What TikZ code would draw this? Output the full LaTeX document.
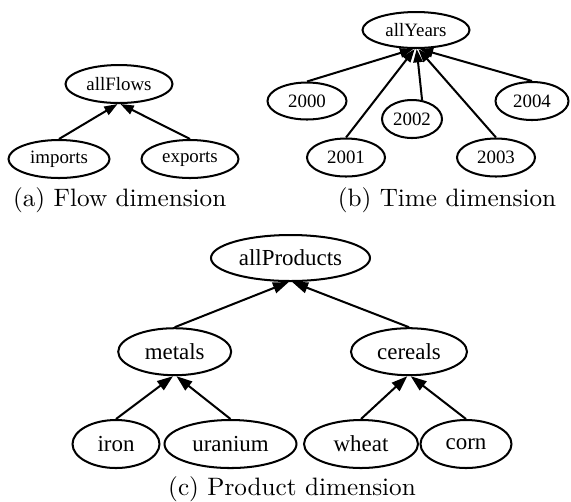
\documentclass[tikz,border=0pt]{standalone}
\usepackage{fontspec}
\newfontfamily\nodefont{Liberation Serif}
\usetikzlibrary{shapes.geometric,arrows.meta}
\begin{document}
\begin{tikzpicture}[x=0.397pt,y=-0.397pt,
  ell/.style 2 args={ellipse, draw, line width=0.8pt, inner sep=0pt,
    minimum width=#1*0.397pt, minimum height=#2*0.397pt},
  sa/.style={font=\nodefont\fontsize{7.5}{9}\selectfont},
  sc/.style={font=\nodefont\fontsize{9.1}{11}\selectfont},
  edgea/.style={line width=0.8pt, -{Triangle[length=5.3pt,width=3.7pt]}},
  edgec/.style={line width=0.8pt, -{Triangle[length=6.3pt,width=4.4pt]}},
  captext/.style={anchor=base, inner sep=0pt}]
\useasboundingbox (0,0) rectangle (571,501);
% (a) Flow dimension
\node[ell={107}{38}, sa] (allFlows) at (119,84) {allFlows};
\node[ell={101}{38}, sa] (imports) at (59,159) {imports};
\node[ell={97}{38}, sa] (exports) at (190,159) {exports};
\draw[edgea] (imports.north) -- (allFlows.266);
\draw[edgea] (exports.north) -- (allFlows.274);
\node[captext] (capa) at (119.7,206.5) {(a) Flow dimension};
% (b) Time dimension
\node[ell={107}{36}, sa] (allYears) at (416,30) {allYears};
\node[ell={79}{37}, sa] (y2000) at (307,101) {2000};
\node[ell={78}{38}, sa] (y2001) at (346,157.5) {2001};
\node[ell={60}{38}, sa] (y2002) at (412,119) {2002};
\node[ell={78}{38}, sa] (y2003) at (496,157.5) {2003};
\node[ell={73}{38}, sa] (y2004) at (532,101) {2004};
\draw[edgea] (y2000.north) -- (allYears.262);
\draw[edgea] (y2001.north) -- (allYears.266);
\draw[edgea] (y2002.62) -- (allYears.272);
\draw[edgea] (y2003.north) -- (allYears.277);
\draw[edgea] (y2004.north) -- (allYears.281);
\node[captext] (capb) at (447,206.5) {(b) Time dimension};
% (c) Product dimension
\node[ell={159}{46}, sc] (allProducts) at (290.5,258) {allProducts};
\node[ell={113}{47}, sc] (metals) at (174.7,351.7) {metals};
\node[ell={116}{47}, sc] (cereals) at (409,351.7) {cereals};
\node[ell={87}{48}, sc] (iron) at (116,444) {iron};
\node[ell={132}{48}, sc] (uranium) at (230.5,444) {uranium};
\node[ell={114}{48}, sc] (wheat) at (361,444) {wheat};
\node[ell={91}{48}, sc] (corn) at (466,444) {corn};
\draw[edgec] (metals.north) -- (allProducts.266);
\draw[edgec] (cereals.north) -- (allProducts.274);
\draw[edgec] (iron.north) -- (metals.266);
\draw[edgec] (uranium.north) -- (metals.274);
\draw[edgec] (wheat.north) -- (cereals.266);
\draw[edgec] (corn.north) -- (cereals.274);
\node[captext] (capc) at (292,495) {(c) Product dimension};
\end{tikzpicture}
\end{document}
